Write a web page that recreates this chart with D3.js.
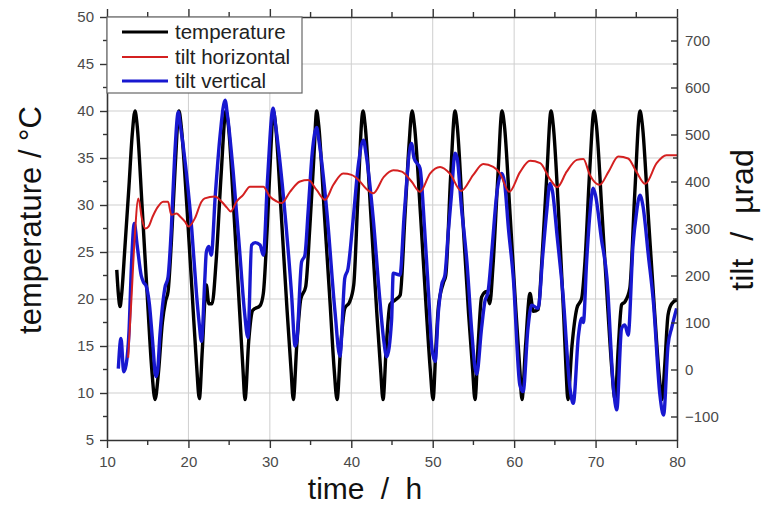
<!DOCTYPE html>
<html><head><meta charset="utf-8">
<script src="https://cdn.jsdelivr.net/npm/d3@7/dist/d3.min.js"></script>
<style>
html,body{margin:0;padding:0;background:#fff;}
svg{display:block;font-family:"Liberation Sans",Arial,sans-serif;}
</style></head>
<body><svg id="c" width="769" height="506"></svg>
<script>
// time (h) / temperature (°C)
const tempTime = [11.2,11.4,11.6,11.8,12.2,12.7,13.1,13.44,13.7,14.3,15.0,15.5,15.9,
 16.3,16.8,17.2,17.5,17.9,18.4,18.84,19.1,19.8,20.5,21.0,21.34,
 21.7,22.2,22.5,22.9,23.4,24.0,24.61,24.9,25.6,26.3,26.7,26.95,
 27.4,27.9,28.8,29.2,29.7,30.1,30.43,30.7,31.4,32.1,32.6,32.88,
 33.3,33.8,34.4,34.9,35.4,35.75,36.0,36.7,37.4,37.9,38.25,
 38.7,39.2,39.8,40.3,40.8,41.44,41.7,42.4,43.1,43.6,43.9,
 44.3,44.75,45.4,46.0,46.6,47.1,47.46,47.75,48.5,49.2,49.7,50.04,
 50.4,50.7,51.3,51.6,52.2,52.74,53.0,53.7,54.4,54.9,55.19,
 55.6,56.0,56.6,57.0,57.4,58.0,58.51,58.8,59.5,60.2,60.7,60.96,
 61.4,61.95,62.35,62.96,63.4,64.0,64.53,64.8,65.5,66.1,66.4,66.6,
 67.1,67.7,68.3,68.7,69.3,69.81,70.1,70.8,71.5,72.0,72.39,
 72.8,73.2,73.6,74.2,74.8,75.46,75.75,76.5,77.3,77.8,78.16,
 78.5,78.9,79.35,80.0];
const tempValue = [23.1,20.5,19.2,20.5,25.5,32,37.5,40,38.5,30,19.5,12.5,9.3,
 12,17.5,19.8,20.8,26,34.5,40,38.5,30,20,13,9.4,
 14.5,21.5,19.5,19.5,24,33,40,38.5,29,18.5,12.5,9.3,
 15.5,18.8,19.3,20.6,28,35.5,40,38.5,29,19,12.5,9.3,
 15,20,21.3,27.5,35,40,38.5,29,19.5,12.5,9.3,
 15,19,19.7,21.5,30.5,40,38.5,29,19,12.5,9.3,
 15,19.4,19.9,20.4,29,36.5,40,38.5,29,19,12.5,9.3,
 15,19.2,21.7,22.5,33,40,38.5,28.5,18.5,12.5,9.3,
 15.5,20.2,20.8,19.5,23.5,33,40,38.5,29,19,12.5,9.3,
 15,20.6,18.7,18.9,24,33,40,38.5,28.5,18,12,9.3,
 15,19.0,20.1,24,34,40,38.5,29,19,12.5,9.3,
 15,19.4,19.7,21.1,31,40,38.5,28.5,18,12,9.3,
 13,18.3,19.5,19.9];

// tilt horizontal (µrad)
const horizTime = [12.6,13.0,13.4,13.85,14.3,14.7,15.1,15.6,16.2,16.9,17.5,17.9,18.55,19.0,19.6,20.0,
 20.8,21.6,22.0,23.26,24.08,24.7,25.2,25.9,26.7,27.56,29.2,30.0,30.8,31.45,32.47,33.7,34.72,35.74,
 36.77,37.8,39.0,40.03,40.9,41.8,42.7,44.0,45.16,46.2,47.4,48.44,49.67,50.9,52.1,53.5,54.98,56.2,
 57.44,58.26,59.4,60.72,61.95,63.2,64.4,65.3,66.45,67.7,68.5,69.3,70.5,71.6,72.8,74.0,75.0,76.1,
 77.5,78.7,80.0];
const horizValue = [25,150,280,364,320,300,304,325,345,357,357,329,332,325,314,304,
 322,357,364,368,357,345,336,357,371,389,389,368,358,354,378,400,403,382,
 361,393,417,414,403,385,375,410,424,421,400,378,417,431,417,380,414,437,
 431,417,378,420,444,439,405,388,421,446,448,414,393,421,453,449,421,395,
 439,456,456];

// tilt vertical (µrad)
const vertTime = [11.39,11.72,12.05,12.35,12.7,13.0,13.35,13.7,14.2,14.5,14.8,15.2,15.6,16.0,16.2,16.5,17.1,17.5,17.9,18.3,18.76,
 19.0,19.4,20.4,21.0,21.3,21.6,22.0,22.2,22.5,22.8,23.3,23.9,24.5,24.8,25.5,26.3,26.9,27.3,27.76,28.2,28.8,29.2,29.7,30.4,
 30.7,31.65,32.67,33.1,33.3,33.9,34.3,34.7,35.2,35.75,36.0,37.0,38.0,38.6,39.2,39.6,40.2,40.9,41.5,41.8,42.7,43.5,44.0,44.35,
 44.95,45.15,45.98,46.5,47.4,47.7,48.44,49.0,49.5,49.9,50.3,50.7,51.1,51.5,51.9,52.3,52.74,53.0,53.5,54.2,54.8,55.2,55.4,
 56.0,56.4,56.8,57.3,57.85,58.46,58.8,59.3,59.9,60.7,61.1,61.7,62.15,62.95,63.5,64.0,64.4,64.7,65.3,66.0,66.86,67.26,
 67.9,68.3,68.5,68.9,69.3,69.7,70.0,70.7,71.4,72.2,72.6,73.2,73.6,74.0,74.6,75.0,75.45,75.8,76.5,77.1,77.9,78.35,
 78.9,79.34,79.95];
const vertValue = [2,66,-5,10,80,220,311,265,200,185,178,140,60,-15,-5,73,173,197,300,450,548,
 520,470,300,159,102,60,187,250,262,243,371,500,573,540,420,250,120,68,265,270,265,243,400,556,
 520,371,159,50,60,229,243,336,460,515,490,336,123,28,194,215,314,440,488,460,320,150,60,27,
 105,205,201,330,481,450,428,300,159,45,17,123,180,201,290,371,460,450,350,229,80,3,-10,
 88,144,166,260,371,417,400,300,194,-33,-47,88,137,130,240,336,396,380,280,159,-40,-72,
 73,109,100,229,330,386,370,280,194,-40,-86,88,95,73,265,330,371,350,240,144,-54,-97,
 52,88,130];

const xTicks = [10,20,30,40,50,60,70,80];
const yLeftTicks = [5,10,15,20,25,30,35,40,45,50];
const yRightTicks = [-100,0,100,200,300,400,500,600,700];
const seriesNames = ["temperature","tilt horizontal","tilt vertical"];
const seriesColors = ["#000000","#d42020","#1818d0"];

const svg = d3.select("#c");
const L = 107, R = 677, T = 17, B = 440;
const x = d3.scaleLinear().domain([10,80]).range([L,R]);
const yT = d3.scaleLinear().domain([5,50]).range([B,T]);
const yR = d3.scaleLinear().domain([-150,750]).range([B,T]);

svg.append("rect").attr("width",769).attr("height",506).attr("fill","#fff");

// grid
const g = svg.append("g");
g.selectAll("line.vx").data(xTicks.slice(1,-1)).join("line")
 .attr("x1",d=>x(d)).attr("x2",d=>x(d)).attr("y1",T).attr("y2",B)
 .attr("stroke","#cfcfcf").attr("stroke-width",1);
g.selectAll("line.hy").data(yLeftTicks.slice(1,-1)).join("line")
 .attr("y1",d=>yT(d)).attr("y2",d=>yT(d)).attr("x1",L).attr("x2",R)
 .attr("stroke","#cfcfcf").attr("stroke-width",1);

// lines
const mk = (xs, ys, ysc) => d3.line().x((d,i)=>x(xs[i])).y((d,i)=>ysc(ys[i])).curve(d3.curveMonotoneX)(xs);
const plot = svg.append("g");
plot.append("path").attr("d", mk(tempTime,tempValue,yT)).attr("fill","none")
 .attr("stroke",seriesColors[0]).attr("stroke-width",3.4).attr("stroke-linejoin","round");
plot.append("path").attr("d", mk(vertTime,vertValue,yR)).attr("fill","none")
 .attr("stroke",seriesColors[2]).attr("stroke-width",3.4).attr("stroke-linejoin","round");
plot.append("path").attr("d", mk(horizTime,horizValue,yR)).attr("fill","none")
 .attr("stroke",seriesColors[1]).attr("stroke-width",2).attr("stroke-linejoin","round");

// axes
const axCol = "#333";
const axB = svg.append("g").attr("transform",`translate(0,${B})`)
 .call(d3.axisBottom(x).tickValues(xTicks).tickSize(8).tickSizeOuter(0).tickPadding(8));
const axT = svg.append("g").attr("transform",`translate(0,${T})`)
 .call(d3.axisTop(x).tickValues(xTicks).tickSize(8).tickSizeOuter(0).tickFormat(""));
const axL = svg.append("g").attr("transform",`translate(${L},0)`)
 .call(d3.axisLeft(yT).tickValues(yLeftTicks).tickSize(7).tickSizeOuter(0).tickPadding(6));
const axR = svg.append("g").attr("transform",`translate(${R},0)`)
 .call(d3.axisRight(yR).tickValues(yRightTicks).tickSize(-6).tickSizeOuter(0).tickPadding(8));
[axB,axT,axL,axR].forEach(a=>{
  a.select(".domain").attr("stroke",axCol).attr("stroke-width",1.6);
  a.selectAll(".tick line").attr("stroke",axCol).attr("stroke-width",1.4);
  a.selectAll(".tick text").attr("fill","#4a4a4a").attr("font-size",15)
   .attr("font-family","'Liberation Sans',Arial,sans-serif");
});
// minor ticks
const xMinor = d3.range(15,80,10);
svg.append("g").selectAll("line").data(xMinor).join("line")
 .attr("x1",d=>x(d)).attr("x2",d=>x(d)).attr("y1",B).attr("y2",B+5).attr("stroke",axCol).attr("stroke-width",1.4);
svg.append("g").selectAll("line").data(xMinor).join("line")
 .attr("x1",d=>x(d)).attr("x2",d=>x(d)).attr("y1",T).attr("y2",T-5).attr("stroke",axCol).attr("stroke-width",1.4);
const yMinor = d3.range(7.5,50,5);
svg.append("g").selectAll("line").data(yMinor).join("line")
 .attr("y1",d=>yT(d)).attr("y2",d=>yT(d)).attr("x1",L).attr("x2",L-4).attr("stroke",axCol).attr("stroke-width",1.4);
const rMinor = d3.range(-50,750,100);
svg.append("g").selectAll("line").data(rMinor).join("line")
 .attr("y1",d=>yR(d)).attr("y2",d=>yR(d)).attr("x1",R).attr("x2",R-4).attr("stroke",axCol).attr("stroke-width",1.4);

// titles
svg.append("text").attr("x",365).attr("y",499).attr("text-anchor","middle")
 .attr("font-size",30).attr("word-spacing",8).attr("fill","#111").text("time / h");
svg.append("text").attr("transform","translate(41,220) rotate(-90)").attr("text-anchor","middle")
 .attr("font-size",31).attr("fill","#111").text("temperature / °C");
svg.append("text").attr("transform","translate(753,220) rotate(-90)").attr("text-anchor","middle")
 .attr("font-size",32).attr("word-spacing",9).attr("fill","#111").text("tilt / µrad");

// legend
const lg = svg.append("g");
lg.append("rect").attr("x",L).attr("y",T).attr("width",195).attr("height",76)
 .attr("fill","#fff").attr("stroke","#666").attr("stroke-width",1.2);
const ly = [32,57,81];
seriesNames.forEach((n,i)=>{
  lg.append("line").attr("x1",122).attr("x2",168).attr("y1",ly[i]).attr("y2",ly[i])
   .attr("stroke",seriesColors[i]).attr("stroke-width",i===1?2.2:3);
  lg.append("text").attr("x",175).attr("y",ly[i]+7).attr("font-size",20.5).attr("fill","#222").text(n);
});
</script></body></html>
